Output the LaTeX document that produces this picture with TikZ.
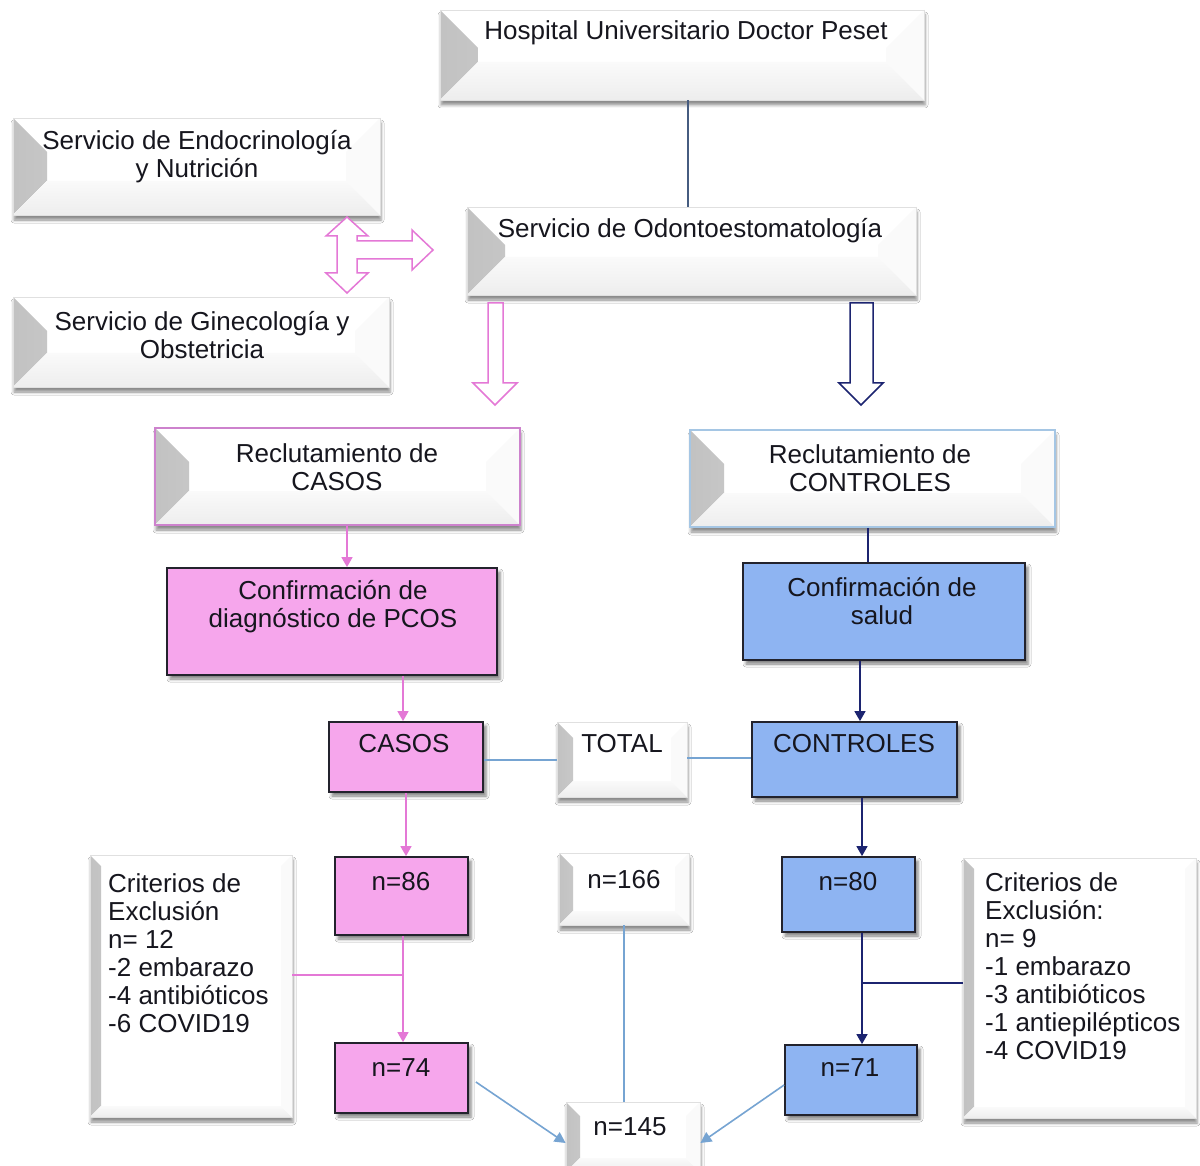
\documentclass[tikz,border=0pt]{standalone}
\usepackage{fontspec}
\setmainfont{Liberation Sans}
\usetikzlibrary{arrows.meta,shadows.blur}

\definecolor{txt}{RGB}{22,22,30}
\definecolor{pinkfill}{RGB}{246,166,236}
\definecolor{bluefill}{RGB}{142,180,242}
\definecolor{pinkline}{RGB}{228,120,214}
\definecolor{navy}{RGB}{28,36,112}
\definecolor{lightline}{RGB}{118,164,210}
\definecolor{hospline}{RGB}{70,92,128}
\definecolor{rcasosb}{RGB}{205,130,205}
\definecolor{rcontb}{RGB}{165,198,228}
\definecolor{boxedge}{RGB}{35,35,45}

\tikzset{
  every node/.style={font=\fontsize{26}{28}\selectfont, text=txt},
  bevel/.style={path picture={
      \fill[left color=black!24, right color=black!5]
        (path picture bounding box.north west)
        -- ([xshift=#1pt,yshift=-#1pt]path picture bounding box.north west)
        -- ([xshift=#1pt,yshift=#1pt]path picture bounding box.south west)
        -- (path picture bounding box.south west) -- cycle;
      \fill[top color=black!2, bottom color=black!7]
        (path picture bounding box.south west)
        -- ([xshift=#1pt,yshift=#1pt]path picture bounding box.south west)
        -- ([xshift=-#1pt,yshift=#1pt]path picture bounding box.south east)
        -- (path picture bounding box.south east) -- cycle;
      \fill[black!2]
        (path picture bounding box.north east)
        -- ([xshift=-#1pt,yshift=-#1pt]path picture bounding box.north east)
        -- ([xshift=-#1pt,yshift=#1pt]path picture bounding box.south east)
        -- (path picture bounding box.south east) -- cycle;
  }},
  bevelbox/.style={rectangle, inner sep=0pt, fill=white, draw=black!12, line width=0.8pt, bevel=#1,
      blur shadow={shadow xshift=1pt, shadow yshift=-5pt, shadow blur radius=3pt, shadow opacity=45}},
  bevelbox/.default=30,
  pinkbox/.style={rectangle, inner sep=0pt, fill=pinkfill, draw=boxedge, line width=1.8pt,
      blur shadow={shadow xshift=3pt, shadow yshift=-4pt, shadow blur radius=3pt, shadow opacity=50}},
  bluebox/.style={rectangle, inner sep=0pt, fill=bluefill, draw=boxedge, line width=1.8pt,
      blur shadow={shadow xshift=3pt, shadow yshift=-4pt, shadow blur radius=3pt, shadow opacity=50}},
  pinkarr/.style={draw=pinkline, line width=1.6pt, -{Triangle[width=11pt,length=10pt]}},
  navyarr/.style={draw=navy, line width=1.6pt, -{Triangle[width=11pt,length=10pt]}},
  pinkln/.style={draw=pinkline, line width=1.4pt},
  navyln/.style={draw=navy, line width=1.4pt},
  lightln/.style={draw=lightline, line width=1.6pt},
  lightarr/.style={draw=lightline, line width=1.6pt, -{Triangle[width=11pt,length=11pt]}},
  blockpink/.style={draw=pinkline, line width=1.5pt, fill=white, line join=miter},
  blocknavy/.style={draw=navy, line width=1.5pt, fill=white, line join=miter},
}

\begin{document}
\begin{tikzpicture}[x=1pt,y=-1pt]
\useasboundingbox (0,0) rectangle (1200,1166);
\fill[white] (0,0) rectangle (1200,1166);

% ---------- top boxes ----------
\node[bevelbox=38, minimum width=484, minimum height=90] (hosp) at (682,55) {};
\node (hospt) at (686,33) {Hospital Universitario Doctor Peset};

\node[bevelbox=38, minimum width=449, minimum height=88] (odon) at (691.5,251) {};
\node (odont) at (690,231) {Servicio de Odontoestomatología};

\node[bevelbox=34, minimum width=367, minimum height=97] (endo) at (196.5,166.5) {};
\node[align=center] (endot) at (197,157) {Servicio de Endocrinología\\y Nutrición};

\node[bevelbox=34, minimum width=376, minimum height=90] (gine) at (201,342) {};
\node[align=center] (ginet) at (202,335) {Servicio de Ginecología y\\Obstetricia};

% tee / double arrow (pink)
\draw[blockpink] (347,217) -- (368,236) -- (357,236) -- (357,241) -- (412,241) -- (412,230)
  -- (433,250) -- (412,270) -- (412,259) -- (357,259) -- (357,273) -- (368,273)
  -- (347,293) -- (326,273) -- (337,273) -- (337,236) -- (326,236) -- cycle;

% block down arrows
\draw[blockpink] (488,303) -- (503,303) -- (503,383) -- (517,383) -- (495,405) -- (473,383) -- (488,383) -- cycle;
\draw[blocknavy] (850,303) -- (873,303) -- (873,383) -- (883,383) -- (861,405) -- (839,383) -- (850,383) -- cycle;

% ---------- recruitment ----------
\node[bevelbox=34, minimum width=365, minimum height=97, draw=rcasosb, line width=1.5pt] (rcasos) at (337.5,476.5) {};
\node[align=center] (rcasost) at (337,467) {Reclutamiento de\\CASOS};

\node[bevelbox=34, minimum width=365, minimum height=97, draw=rcontb, line width=1.5pt] (rcont) at (872.5,478.5) {};
\node[align=center] (rcontt) at (870,468.5) {Reclutamiento de\\CONTROLES};

\node[pinkbox, minimum width=330, minimum height=107] (cpcos) at (332,621.5) {};
\node[align=center] (cpcost) at (333,607) {Confirmación de\\diagnóstico de PCOS};

\node[bluebox, minimum width=282, minimum height=97] (csalud) at (884,611.5) {};
\node[align=center] (csaludt) at (882,601) {Confirmación de\\salud};

% ---------- groups ----------
\node[pinkbox, minimum width=154, minimum height=70] (casos) at (406,757) {};
\node (casost) at (404,744) {CASOS};

\node[bevelbox=16, minimum width=130, minimum height=75] (total) at (622,759.5) {};
\node (totalt) at (622,744) {TOTAL};

\node[bluebox, minimum width=205, minimum height=75] (contr) at (854.5,759.5) {};
\node (contrt) at (854,744) {CONTROLES};

% ---------- counts ----------
\node[pinkbox, minimum width=133, minimum height=78] (n86) at (401.5,896) {};
\node (n86t) at (401,882) {n=86};

\node[pinkbox, minimum width=133, minimum height=70] (n74) at (401.5,1078) {};
\node (n74t) at (401,1068) {n=74};

\node[bevelbox=14, minimum width=130, minimum height=72] (n166) at (624,889) {};
\node (n166t) at (624,880) {n=166};

\node[bluebox, minimum width=133, minimum height=75] (n80) at (848.5,894.5) {};
\node (n80t) at (848,882) {n=80};

\node[bluebox, minimum width=132, minimum height=70] (n71) at (851,1080) {};
\node (n71t) at (850,1068) {n=71};

\node[bevelbox=14, minimum width=134, minimum height=70] (n145) at (633,1137) {};
\node (n145t) at (630,1127) {n=145};

\node[bevelbox=11, minimum width=202, minimum height=262] (critl) at (191,986) {};
\node[align=left, anchor=north west, inner sep=0pt] (critlt) at (108,873)
  {Criterios de\\Exclusión\\n= 12\\-2 embarazo\\-4 antibióticos\\-6 COVID19};

\node[bevelbox=11, minimum width=233, minimum height=260] (critr) at (1079.5,988) {};
\node[align=left, anchor=north west, inner sep=0pt] (critrt) at (985,872)
  {Criterios de\\Exclusión:\\n= 9\\-1 embarazo\\-3 antibióticos\\-1 antiepilépticos\\-4 COVID19};

% ---------- connectors ----------
\draw[draw=hospline, line width=1.4pt] ([xshift=6pt]hosp.south) -- ([xshift=6pt]hosp.south |- odon.north);

\draw[pinkarr] ([xshift=9.5pt]rcasos.south) -- ([xshift=9.5pt]rcasos.south |- cpcos.north);
\draw[navyln] ([xshift=-4.5pt]rcont.south) -- ([xshift=-4.5pt]rcont.south |- csalud.north);

\draw[pinkarr] ([xshift=71pt]cpcos.south) -- ([xshift=71pt]cpcos.south |- casos.north);
\draw[navyarr] ([xshift=-24pt]csalud.south) -- ([xshift=-24pt]csalud.south |- contr.north);

\draw[lightln] ([yshift=-3pt]casos.east) -- ([yshift=-3pt]casos.east -| total.west);
\draw[lightln] ([yshift=1.5pt]total.east) -- ([yshift=1.5pt]total.east -| contr.west);

\draw[pinkarr] (casos.south) -- (casos.south |- n86.north);
\draw[navyarr] ([xshift=7.5pt]contr.south) -- ([xshift=7.5pt]contr.south |- n80.north);

\draw[pinkarr] ([xshift=1.5pt]n86.south) -- ([xshift=1.5pt]n86.south |- n74.north);
\coordinate (jl) at ([yshift=11pt]critl.east);
\coordinate (n86s) at ([xshift=1.5pt]n86.south);
\draw[pinkln] (jl) -- (jl -| n86s);

\draw[navyarr] ([xshift=13.5pt]n80.south) -- ([xshift=13.5pt]n80.south |- n71.north);
\coordinate (jr) at ([yshift=5pt]critr.west);
\coordinate (n80s) at ([xshift=13.5pt]n80.south);
\draw[navyln] (jr) -- (jr -| n80s);

\draw[lightln] (n166.south) -- (n166.south |- n145.north);
\draw[lightarr] ([xshift=7pt,yshift=-4pt]n74.east) -- ([yshift=-6pt]n145.west);
\draw[lightarr] ([yshift=-5pt]n71.west) -- ([yshift=-6pt]n145.east);
\end{tikzpicture}
\end{document}
